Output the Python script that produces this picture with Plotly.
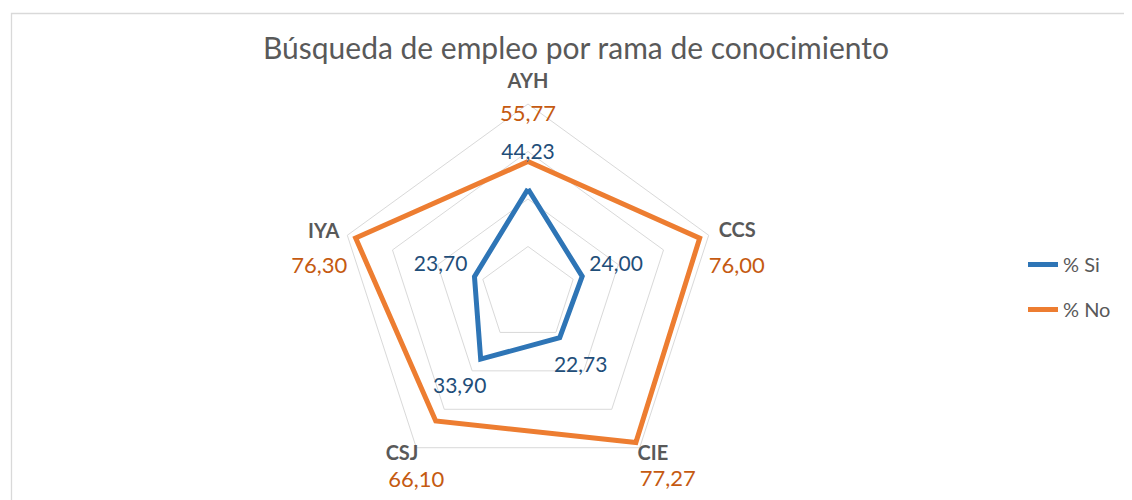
import plotly.graph_objects as go

categories = ["AYH", "CCS", "CIE", "CSJ", "IYA"]
si_values = [44.23, 24.00, 22.73, 33.90, 23.70]
no_values = [55.77, 76.00, 77.27, 66.10, 76.30]
series_names = ["% Si", "% No"]
grid_values = [20, 40, 60, 80]

BLUE = "#2E75B6"
ORANGE = "#ED7D31"
BLUE_TXT = "#1F4E79"
ORANGE_TXT = "#C55A11"
GRID = "#D9D9D9"
LABEL_GREY = "#595959"
FONT = "Lato"
R_MAX = 80          # outer ring of the chart
R_VIEW = 90         # room outside the outer ring for the category labels

# label placement (style only)
cat_label_pad = [4.6, 4.4, -1.5, -1.5, 3.5]
cat_label_pos = ["top center", "middle right", "bottom right", "bottom left", "middle left"]
no_label_pos = ["bottom center", "bottom right", "bottom right", "bottom center", "bottom left"]
no_label_drop = [22.7, 50.7, 51, 52, 50]   # vertical drop of the label under the vertex
si_label_gap = 15

# polar placement (pixels)
CX, CY, R_PX = 520, 286, 190
R_VIEW_PX = R_PX * R_VIEW / R_MAX
W, H = 1132, 500


def fmt(v):
    return f"{v:.2f}".replace(".", ",")


def closed(a):
    return list(a) + [a[0]]


fig = go.Figure()
fig.add_trace(go.Scatterpolar(
    r=closed(si_values), theta=closed(categories), mode="lines",
    name=series_names[0], legendgroup="si",
    line=dict(color=BLUE, width=5), hoverinfo="skip"))
fig.add_trace(go.Scatterpolar(
    r=closed(no_values), theta=closed(categories), mode="lines",
    name=series_names[1], legendgroup="no",
    line=dict(color=ORANGE, width=5), hoverinfo="skip"))

# blue data labels, placed outward from the points
fig.add_trace(go.Scatterpolar(
    r=[v + si_label_gap for v in si_values], theta=categories, mode="text",
    text=[fmt(v) for v in si_values], textposition="middle center",
    textfont=dict(family=FONT, size=21, color=BLUE_TXT),
    showlegend=False, hoverinfo="skip", cliponaxis=False))

# category labels at the outer vertices
fig.add_trace(go.Scatterpolar(
    r=[R_MAX + p for p in cat_label_pad], theta=categories, mode="text",
    text=[f"<b>{c}</b>" for c in categories], textposition=cat_label_pos,
    textfont=dict(family=FONT, size=20, color=LABEL_GREY),
    showlegend=False, hoverinfo="skip", cliponaxis=False))

# orange data labels, set just under each category label
fig.add_trace(go.Scatterpolar(
    r=[R_MAX] * len(categories), theta=categories, mode="text",
    text=[f"<span style='font-size:22px'>{fmt(v)}</span>" for v in no_values],
    textposition=no_label_pos,
    textfont=dict(family=FONT, size=no_label_drop, color=ORANGE_TXT),
    showlegend=False, hoverinfo="skip", cliponaxis=False))

fig.update_layout(
    width=W, height=H,
    margin=dict(l=0, r=0, t=0, b=0),
    paper_bgcolor="white",
    font=dict(family=FONT, color=LABEL_GREY),
    title=dict(text="Búsqueda de empleo por rama de conocimiento",
               x=568 / W, xanchor="center", y=1 - 40 / H, yanchor="middle",
               font=dict(family=FONT, size=30, color=LABEL_GREY)),
    polar=dict(
        domain=dict(x=[(CX - R_VIEW_PX) / W, (CX + R_VIEW_PX) / W],
                    y=[1 - (CY + R_VIEW_PX) / H, 1 - (CY - R_VIEW_PX) / H]),
        gridshape="linear",
        bgcolor="rgba(0,0,0,0)",
        radialaxis=dict(range=[0, R_VIEW], tickmode="array", tickvals=grid_values,
                        showticklabels=False, ticks="",
                        showline=False, gridcolor=GRID, gridwidth=1.3),
        angularaxis=dict(direction="clockwise", rotation=90, showgrid=False,
                         showline=False, ticks="", showticklabels=False),
    ),
    legend=dict(x=1015 / W, xanchor="left", y=1 - 237 / H, yanchor="top",
                font=dict(family=FONT, size=20, color=LABEL_GREY),
                tracegroupgap=16, bgcolor="rgba(0,0,0,0)"),
    shapes=[dict(type="rect", xref="paper", yref="paper",
                 x0=3.5 / W, x1=1.2, y0=-0.2, y1=1 - 5.5 / H,
                 line=dict(color=GRID, width=1.3), layer="below")],
)

fig.write_html("out.html")
